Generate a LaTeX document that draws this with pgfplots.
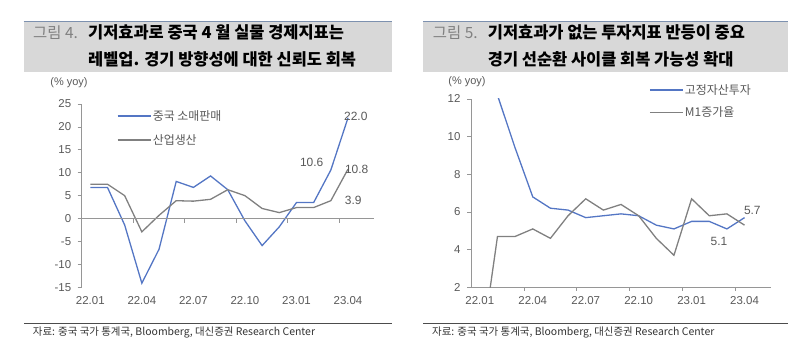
\documentclass[border=0pt]{standalone}
\usepackage{pgfplots}
\pgfplotsset{compat=1.18}
\usepackage{fontspec}
\setmainfont{Liberation Sans}
\newfontfamily\kr{Noto Sans CJK KR}
\definecolor{serblue}{RGB}{84,118,196}
\definecolor{sergray}{RGB}{128,128,128}
\definecolor{axgray}{RGB}{150,150,150}
\definecolor{txtgray}{RGB}{89,89,89}
\definecolor{boxgray}{RGB}{216,216,216}
\definecolor{boxline}{RGB}{125,145,175}
\definecolor{figgray}{RGB}{128,128,128}

\pgfplotsset{
  mystyle/.style={
    scale only axis,
    axis lines=left,
    axis line style={axgray,-,line width=0.8bp},
    ytick style={axgray,line width=0.8bp},
    xtick style={draw=none},
    ytick align=outside,
    major tick length=4bp,
    ticklabel style={font=\fontsize{11.5}{12}\selectfont, text=txtgray},
    xticklabel style={yshift=-4bp},
    yticklabel style={xshift=-3bp},
    /pgf/number format/assume math mode=true,
    xmin=-0.5, xmax=16.5,
    xtick={0,3,6,9,12,15},
    xticklabels={22.01,22.04,22.07,22.10,23.01,23.04},
  },
  mylegend/.style={
    legend cell align=left,
    legend style={draw=none, fill=none, font=\kr\fontsize{12}{13}\selectfont,
      row sep=9.5bp, inner sep=0pt, nodes={inner sep=1.5bp}},
  }
}

\begin{document}
\begin{tikzpicture}[x=1bp,y=1bp]
\useasboundingbox (0,0) rectangle (812,355);

% ---------- titles ----------
\fill[boxgray] (23.5,282.7) rectangle (392,334);
\draw[boxline, line width=0.8bp] (23.5,334) -- (392,334);
\node[anchor=base west, inner sep=0pt, text=figgray, font=\kr\fontsize{15.5}{18}\selectfont] at (33,316.5) {그림 4.};
\node[anchor=base west, inner sep=0pt, font=\kr\bfseries\fontsize{16.5}{18}\selectfont] at (88,316.5) {기저효과로 중국 4 월 실물 경제지표는};
\node[anchor=base west, inner sep=0pt, font=\kr\bfseries\fontsize{16.5}{18}\selectfont] at (88,289.5) {레벨업. 경기 방향성에 대한 신뢰도 회복};

\fill[boxgray] (423,282.7) rectangle (788,334);
\draw[boxline, line width=0.8bp] (423,334) -- (788,334);
\node[anchor=base west, inner sep=0pt, text=figgray, font=\kr\fontsize{15.5}{18}\selectfont] at (432.7,316.5) {그림 5.};
\node[anchor=base west, inner sep=0pt, font=\kr\bfseries\fontsize{16.5}{18}\selectfont] at (487.7,316.5) {기저효과가 없는 투자지표 반등이 중요};
\node[anchor=base west, inner sep=0pt, font=\kr\bfseries\fontsize{16.5}{18}\selectfont] at (487.7,289.5) {경기 선순환 사이클 회복 가능성 확대};

% ---------- sources ----------
\draw[black!70, line width=0.6bp] (24,31.7) -- (392,31.7);
\draw[black!70, line width=0.6bp] (423,31.7) -- (788,31.7);
\node[anchor=west, inner sep=0pt, text=black!80, font=\kr\fontsize{10.5}{12}\selectfont] at (32.7,22.7) {자료: 중국 국가 통계국, Bloomberg, 대신증권 Research Center};
\node[anchor=west, inner sep=0pt, text=black!80, font=\kr\fontsize{10.5}{12}\selectfont] at (432,22.7) {자료: 중국 국가 통계국, Bloomberg, 대신증권 Research Center};

% ---------- left chart ----------
\begin{axis}[mystyle, mylegend,
  at={(81.7bp,67.7bp)}, anchor=south west,
  width=292.1bp, height=183.3bp,
  ymin=-15, ymax=25, ytick={-15,-10,...,25},
  x axis line style={draw=none},
  legend image code/.code={\draw[#1, line width=1.3bp] (0bp,0bp) -- (33bp,0bp);},
  legend style={at={(0.12,0.975)}, anchor=north west},
]
\addplot[serblue, line width=1.3bp] coordinates {
(0,6.8)(1,6.8)(2,-1.4)(3,-14.1)(4,-6.7)(5,8.1)(6,6.8)(7,9.3)(8,6.3)(9,-0.5)(10,-5.9)(11,-1.8)(12,3.5)(13,3.5)(14,10.6)(15,22.0)};
\addlegendentry{\textcolor{txtgray}{중국 소매판매}}
\addplot[sergray, line width=1.3bp] coordinates {
(0,7.5)(1,7.5)(2,5.0)(3,-2.9)(4,0.7)(5,3.9)(6,3.8)(7,4.2)(8,6.3)(9,5.0)(10,2.2)(11,1.3)(12,2.4)(13,2.4)(14,3.9)(15,10.8)};
\addlegendentry{\textcolor{txtgray}{산업생산}}
\draw[axgray, line width=0.8bp] (axis cs:-0.5,0) -- (axis cs:16.5,0);
\pgfplotsinvokeforeach{2.5,5.5,8.5,11.5,14.5}{\draw[axgray, line width=0.8bp] (axis cs:#1,0) -- ++(0bp,-4bp);}
\end{axis}

% ---------- right chart ----------
\begin{axis}[mystyle,
  at={(471bp,67.7bp)}, anchor=south west,
  width=300bp, height=188.3bp,
  ymin=2, ymax=12, ytick={2,4,...,12},
]
\addplot[serblue, line width=1.3bp] coordinates {
(0,12.2)(1,12.2)(2,9.4)(3,6.8)(4,6.2)(5,6.1)(6,5.7)(7,5.8)(8,5.9)(9,5.8)(10,5.3)(11,5.1)(12,5.5)(13,5.5)(14,5.1)(15,5.7)};
\addplot[sergray, line width=1.3bp] coordinates {
(0,-1.9)(1,4.7)(2,4.7)(3,5.1)(4,4.6)(5,5.8)(6,6.7)(7,6.1)(8,6.4)(9,5.8)(10,4.6)(11,3.7)(12,6.7)(13,5.8)(14,5.9)(15,5.3)};
\coordinate (rta) at (axis cs:2.5,2);
\coordinate (rtb) at (axis cs:5.5,2);
\coordinate (rtc) at (axis cs:8.5,2);
\coordinate (rtd) at (axis cs:11.5,2);
\coordinate (rte) at (axis cs:14.5,2);
\end{axis}
\foreach \t in {rta,rtb,rtc,rtd,rte}{\draw[axgray, line width=0.8bp] (\t) -- ++(0,-4);}

% ---------- right legend (overlay axis holding only the legend) ----------
\begin{axis}[mylegend, scale only axis, hide axis,
  at={(471bp,67.7bp)}, anchor=south west,
  width=300bp, height=260bp,
  xmin=0, xmax=1, ymin=0, ymax=1,
  legend image code/.code={\draw[#1, line width=1.3bp] (0bp,0bp) -- (33bp,0bp);},
  legend style={at={(0.593,0.787)}, anchor=north west, row sep=8bp},
]
\addlegendimage{serblue, line width=1.3bp}
\addlegendentry{\textcolor{txtgray}{고정자산투자}}
\addlegendimage{sergray, line width=1.3bp}
\addlegendentry{\textcolor{txtgray}{M1증가율}}
\end{axis}

% ---------- unit labels and value labels ----------
\node[text=txtgray, font=\fontsize{11}{12}\selectfont] at (69,272) {(\% yoy)};
\node[text=txtgray, font=\fontsize{11}{12}\selectfont] at (467,273) {(\% yoy)};
\node[text=txtgray, font=\fontsize{12}{12}\selectfont] at (355.8,239) {22.0};
\node[text=txtgray, font=\fontsize{12}{12}\selectfont] at (311.7,192.3) {10.6};
\node[text=txtgray, font=\fontsize{12}{12}\selectfont] at (356.7,186) {10.8};
\node[text=txtgray, font=\fontsize{12}{12}\selectfont] at (353.3,154.3) {3.9};
\node[text=txtgray, font=\fontsize{12}{12}\selectfont] at (752.3,145) {5.7};
\node[text=txtgray, font=\fontsize{12}{12}\selectfont] at (719,114) {5.1};
\end{tikzpicture}
\end{document}
